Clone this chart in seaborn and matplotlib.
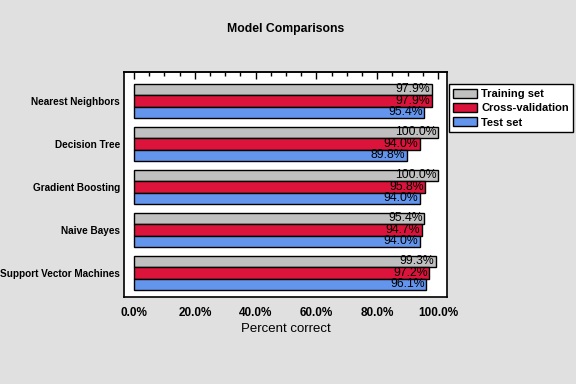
import pandas as pd
import seaborn as sns
import matplotlib.pyplot as plt
from matplotlib.ticker import MultipleLocator, PercentFormatter

models = ['Nearest Neighbors', 'Decision Tree', 'Gradient Boosting',
          'Naive Bayes', 'Support Vector Machines']
training = [97.9, 100.0, 100.0, 95.4, 99.3]
crossval = [97.9, 94.0, 95.8, 94.7, 97.2]
test = [95.4, 89.8, 94.0, 94.0, 96.1]
sets = ['Training set', 'Cross-validation', 'Test set']
colors = ['#c0c0c0', '#dc143c', '#6495ed']

rows = []
for name, vals in zip(sets, [training, crossval, test]):
    for m, v in zip(models, vals):
        rows.append({'model': m, 'set': name, 'pct': v})
df = pd.DataFrame(rows)

sns.set_style('white')
plt.rcParams['font.family'] = ['Liberation Sans', 'DejaVu Sans']
plt.rcParams.update({'text.color': 'black', 'axes.labelcolor': 'black',
                     'xtick.color': 'black', 'ytick.color': 'black'})

fig = plt.figure(figsize=(5.76, 3.84), dpi=100, facecolor='#e0e0e0')
ax = fig.add_axes([0.2153, 0.2266, 0.5608, 0.5859])
sns.barplot(data=df, x='pct', y='model', hue='set', order=models,
            hue_order=sets, palette=colors, orient='h', width=0.8,
            edgecolor='black', linewidth=1.0, saturation=1, ax=ax)

for cont in ax.containers:
    labels = ax.bar_label(cont, fmt='%.1f%%', padding=-1, fontsize=8.8,
                          color='black')
    for t in labels:
        t.set_ha('right')

ax.set_xlim(-3.3, 103)
ax.set_ylim(4.56, -0.67)
ax.xaxis.set_major_locator(MultipleLocator(20))
ax.xaxis.set_minor_locator(MultipleLocator(5))
ax.xaxis.set_major_formatter(PercentFormatter(decimals=1))
ax.tick_params(axis='x', which='major', direction='out', length=5, width=1,
               labelsize=8.5, pad=2)
ax.tick_params(axis='x', which='minor', direction='out', length=3, width=1)
ax.tick_params(axis='y', length=0, labelsize=7.2, pad=3)
for lab in ax.get_xticklabels() + ax.get_yticklabels():
    lab.set_fontweight('bold')

top = ax.secondary_xaxis('top')
top.xaxis.set_major_locator(MultipleLocator(20))
top.xaxis.set_minor_locator(MultipleLocator(5))
top.tick_params(which='major', direction='in', length=5, width=1, labeltop=False)
top.tick_params(which='minor', direction='in', length=3, width=1)
top.spines['top'].set_linewidth(1.2)

for sp in ax.spines.values():
    sp.set_color('black')
    sp.set_linewidth(1.2)

ax.set_xlabel('Percent correct', fontsize=9.5, labelpad=3)
ax.set_ylabel('')
ax.set_title('Model Comparisons', fontsize=8.8, fontweight='bold', pad=29)

ax.legend_.remove()
leg = fig.legend(*ax.get_legend_handles_labels(), loc='upper left',
                 bbox_to_anchor=(0.7795, 0.781), frameon=True, fancybox=False,
                 edgecolor='black', facecolor='white', framealpha=1,
                 prop={'size': 8, 'weight': 'bold'}, handlelength=2.1,
                 handleheight=0.9, borderpad=0.4, labelspacing=0.35,
                 handletextpad=0.4, borderaxespad=0)
leg.get_frame().set_linewidth(1.0)

fig.savefig('out.png', dpi=100, facecolor=fig.get_facecolor())
